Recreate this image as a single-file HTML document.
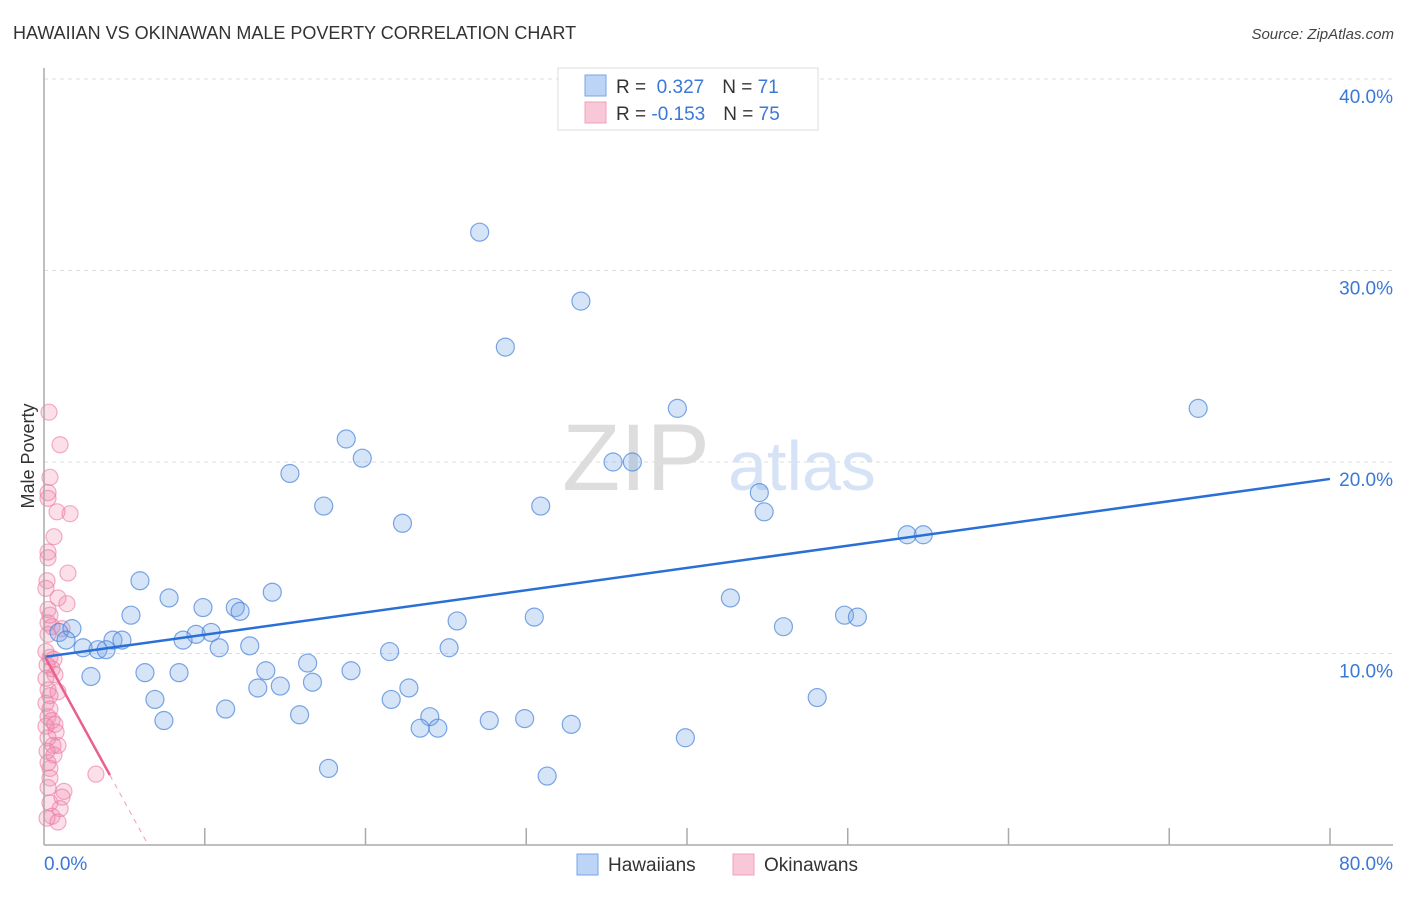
<!DOCTYPE html>
<html><head><meta charset="utf-8"><style>
body{margin:0;background:#fff;font-family:"Liberation Sans",sans-serif}
svg text{font-family:"Liberation Sans",sans-serif}
</style></head><body>
<svg id="chart" width="1406" height="892" xmlns="http://www.w3.org/2000/svg">
<text x="13" y="39" font-size="18" fill="#333">HAWAIIAN VS OKINAWAN MALE POVERTY CORRELATION CHART</text>
<text x="1394" y="39" font-size="15" fill="#444" font-style="italic" text-anchor="end">Source: ZipAtlas.com</text>
<text transform="translate(34,456) rotate(-90)" font-size="18" fill="#333" text-anchor="middle">Male Poverty</text>
<g id="grid"></g>
<g id="wm"><text x="636" y="490" font-size="95" fill="#ddd" font-family="Liberation Serif" text-anchor="middle">ZIP</text><text x="802" y="490" font-size="70" fill="#d6e2f5" text-anchor="middle">atlas</text></g>
<g id="pts"></g>
<g id="lines"></g>
<line x1="44" y1="68" x2="44" y2="845" stroke="#aaa" stroke-width="1.5"/>
<line x1="44" y1="845" x2="1393" y2="845" stroke="#aaa" stroke-width="1.5"/>
<g id="ticks"></g>
<g>
<rect x="558" y="68" width="260" height="62" fill="#fff" stroke="#ddd"/>
<rect x="585" y="75" width="21" height="21" fill="#bcd4f5" stroke="#7aa5e8"/>
<rect x="585" y="102" width="21" height="21" fill="#f9c8d8" stroke="#f0a0bc"/>
<text x="616" y="93" font-size="19" fill="#333">R = <tspan fill="#3a78d8">&#160;0.327</tspan><tspan dx="18">N = </tspan><tspan fill="#3a78d8"> 71</tspan></text>
<text x="616" y="120" font-size="19" fill="#333">R = <tspan fill="#3a78d8">-0.153</tspan><tspan dx="18">N = </tspan><tspan fill="#3a78d8"> 75</tspan></text>
</g>
<g>
<rect x="577" y="854" width="21" height="21" fill="#bcd4f5" stroke="#7aa5e8"/>
<text x="608" y="871" font-size="19" fill="#333">Hawaiians</text>
<rect x="733" y="854" width="21" height="21" fill="#f9c8d8" stroke="#f0a0bc"/>
<text x="764" y="871" font-size="19" fill="#333">Okinawans</text>
</g>
</svg>
<script>
const yTicks=[10,20,30,40];
const yTickLabels=["10.0%","20.0%","30.0%","40.0%"];
const xTicks=[0,10,20,30,40,50,60,70,80];
const hawX=[27.1,33.4,28.7,39.4,71.8,18.8,19.8,35.4,36.6,15.3,44.5,17.4,30.9,44.8,22.3,53.7,54.7,5.97,14.2,7.78,42.7,5.41,9.89,11.9,12.2,25.7,30.5,49.8,50.6,46.0,0.93,1.74,9.46,10.4,4.29,4.85,8.65,1.37,2.43,3.36,3.86,10.9,12.8,25.2,21.5,16.4,13.8,6.28,8.4,19.1,2.92,16.7,13.3,14.7,22.7,6.9,48.1,21.6,11.3,15.9,7.46,24.0,27.7,29.9,23.4,24.5,32.8,39.9,17.7,31.3];
const hawY=[32.0,28.4,26.0,22.8,22.8,21.2,20.2,20.0,20.0,19.4,18.4,17.7,17.7,17.4,16.8,16.2,16.2,13.8,13.2,12.9,12.9,12.0,12.4,12.4,12.2,11.7,11.9,12.0,11.9,11.4,11.1,11.3,11.0,11.1,10.7,10.7,10.7,10.7,10.3,10.2,10.2,10.3,10.4,10.3,10.1,9.5,9.1,9.0,9.0,9.1,8.8,8.5,8.2,8.3,8.2,7.6,7.7,7.6,7.1,6.8,6.5,6.7,6.5,6.6,6.1,6.1,6.3,5.6,4.0,3.6];
const okiX=[0.31,1.0,0.37,0.25,0.25,0.81,1.62,0.62,0.25,0.25,1.49,0.19,0.12,0.87,1.43,0.25,0.37,0.25,0.5,1.12,0.25,0.12,0.37,0.62,0.19,0.5,0.68,0.12,0.25,0.87,0.37,0.12,0.37,0.25,0.5,0.12,0.68,0.75,0.25,0.56,0.87,0.19,0.62,0.25,0.37,3.23,0.37,0.25,1.24,1.12,0.37,1.0,0.5,0.19,0.87];
const okiY=[22.6,20.9,19.2,18.4,18.1,17.4,17.3,16.1,15.3,15.0,14.2,13.8,13.4,12.9,12.6,12.3,12.0,11.6,11.4,11.3,11.0,10.1,9.8,9.7,9.4,9.2,8.9,8.7,8.1,8.0,7.8,7.4,7.1,6.7,6.5,6.2,6.3,5.9,5.6,5.2,5.2,4.9,4.7,4.3,4.0,3.7,3.5,3.0,2.8,2.5,2.2,1.9,1.5,1.4,1.2];
const hawTrend=[9.82,0.1162];
const okiTrend=[9.92,-1.53];
const NS="http://www.w3.org/2000/svg";
const X=v=>44+v*16.075, Y=v=>845-v*19.15;
function mk(t,a,p){const e=document.createElementNS(NS,t);for(const k in a)e.setAttribute(k,a[k]);p.appendChild(e);return e;}
const grid=document.getElementById('grid'),ticks=document.getElementById('ticks'),pts=document.getElementById('pts'),lines=document.getElementById('lines');
yTicks.forEach((t,i)=>{
 const l=mk('line',{x1:44,x2:1393,y1:Y(t),y2:Y(t),stroke:'#ddd','stroke-dasharray':'4,4'},grid);
 
 
 const tx=mk('text',{x:1393,y:Y(t)+24,'font-size':19,fill:'#3a78d8','text-anchor':'end'},ticks);
 tx.textContent=yTickLabels[i];
 
 
});
xTicks.forEach(t=>{if(t===0)return;
 const l=mk('line',{x1:X(t),x2:X(t),y1:828,y2:845,stroke:'#aaa','stroke-width':1.5},ticks);
 
 
});
[["0.0%",44,'start'],["80.0%",1393,'end']].forEach(a=>{
 const tx=mk('text',{x:a[1],y:870,'font-size':19,fill:'#3a78d8','text-anchor':a[2]},ticks);tx.textContent=a[0];
 
 
});
okiX.forEach((x,i)=>{
 const c=mk('circle',{cx:X(x),cy:Y(okiY[i]),r:8,fill:'rgba(240,130,170,0.25)',stroke:'rgba(236,120,160,0.6)','stroke-width':1.2},pts);
 
 
});
hawX.forEach((x,i)=>{
 const c=mk('circle',{cx:X(x),cy:Y(hawY[i]),r:9,fill:'rgba(120,165,232,0.3)',stroke:'rgba(70,130,220,0.7)','stroke-width':1.2},pts);
 
 
});
let l=mk('line',{x1:X(0),y1:Y(hawTrend[0]),x2:X(80),y2:Y(hawTrend[0]+80*hawTrend[1]),stroke:'#2a6fd6','stroke-width':2.5},lines);


const xe=4.1, xz=-okiTrend[0]/okiTrend[1];
l=mk('line',{x1:X(0),y1:Y(okiTrend[0]),x2:X(xe),y2:Y(okiTrend[0]+xe*okiTrend[1]),stroke:'#e8608c','stroke-width':2.5},lines);


l=mk('line',{x1:X(xe),y1:Y(okiTrend[0]+xe*okiTrend[1]),x2:X(xz),y2:Y(0),stroke:'#e8a0b8','stroke-width':1,'stroke-dasharray':'5,5'},lines);


</script>
</body></html>
